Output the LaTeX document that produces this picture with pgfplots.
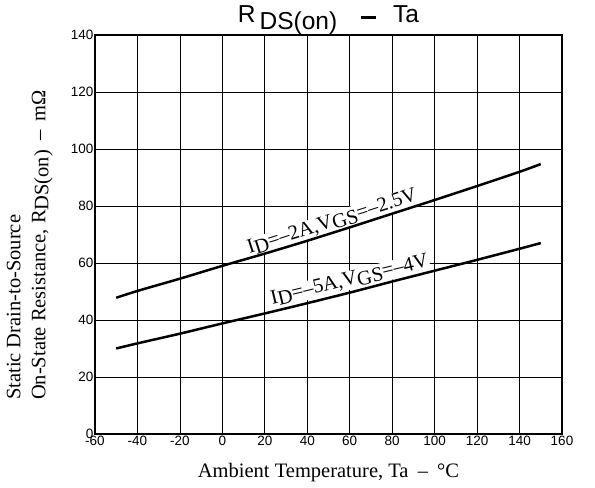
\documentclass[border=0pt]{standalone}
\usepackage{fontspec}
\setmainfont{Liberation Serif}
\newfontfamily\arial{Liberation Sans}
\usepackage{pgfplots}
\pgfplotsset{compat=1.18}
\newcommand{\sub}[1]{\raisebox{-0.32ex}{#1}}

\begin{document}
\begin{tikzpicture}
\begin{axis}[
  name=ax,
  scale only axis, width=467bp, height=399bp,
  xmin=-60, xmax=160, ymin=0, ymax=140,
  xtick={-60,-40,...,160}, ytick={0,20,...,140},
  grid=major,
  major grid style={black, line width=0.7pt},
  major tick length=0pt,
  axis line style={line width=1.3pt},
  tick label style={font=\arial\fontsize{13.5bp}{13.5bp}\selectfont, inner sep=1.5bp},
  /pgf/number format/assume math mode=true,
  title={R\hspace{4bp}\raisebox{-7bp}{DS(on)}\hspace{24bp}\raisebox{3bp}{\rule{15bp}{3bp}}\hspace{17bp}Ta},
  title style={at={(axis description cs:0.5,1)}, anchor=base, yshift=7bp, inner sep=0pt,
    font=\arial\fontsize{24.5bp}{24.5bp}\selectfont},
  xlabel={Ambient Temperature, Ta\hspace{0.45em}–\hspace{0.45em}\textdegree C},
  xlabel style={at={(axis description cs:0.5,0)}, anchor=base, yshift=-43bp,
    font=\fontsize{20.5bp}{20.5bp}\selectfont},
  ylabel={Static Drain-to-Source\\On-State Resistance, R\sub{DS(on)}\hspace{0.45em}–\hspace{0.45em}mΩ},
  ylabel style={at={(axis description cs:-0.09,0.085)}, anchor=south west,
    align=left, inner sep=0pt, font=\fontsize{20.5bp}{25bp}\selectfont},
]
\node[rotate=17.7, fill=white, inner sep=1bp, anchor=base,
  font=\fontsize{20.5bp}{20.5bp}\selectfont] at (axis cs:52.5,72.6)
  {I\sub{D}=–2A,V\sub{GS}=–2.5V};
\node[rotate=13.5, fill=white, inner sep=1bp, anchor=base,
  font=\fontsize{20.5bp}{20.5bp}\selectfont] at (axis cs:60.5,52.2)
  {I\sub{D}=–5A,V\sub{GS}=–4V};
\addplot[black, line width=2.5pt, smooth] coordinates {
  (-50,47.8) (-40,50.2) (-20,54.5) (0,59) (20,63.3) (40,67.8)
  (60,72.5) (80,77.3) (100,82.1) (120,87) (140,92) (150,94.7)
};
\addplot[black, line width=2.5pt, smooth] coordinates {
  (-50,30) (-40,31.8) (-20,35.2) (0,38.8) (20,42.3) (40,45.9)
  (60,49.6) (80,53.5) (100,57.3) (120,61.1) (140,65) (150,67)
};
\end{axis}
\pgfresetboundingbox
\path ([xshift=-95bp,yshift=-54bp]ax.south west) rectangle ([xshift=33bp,yshift=35bp]ax.north east);
\end{tikzpicture}
\end{document}
